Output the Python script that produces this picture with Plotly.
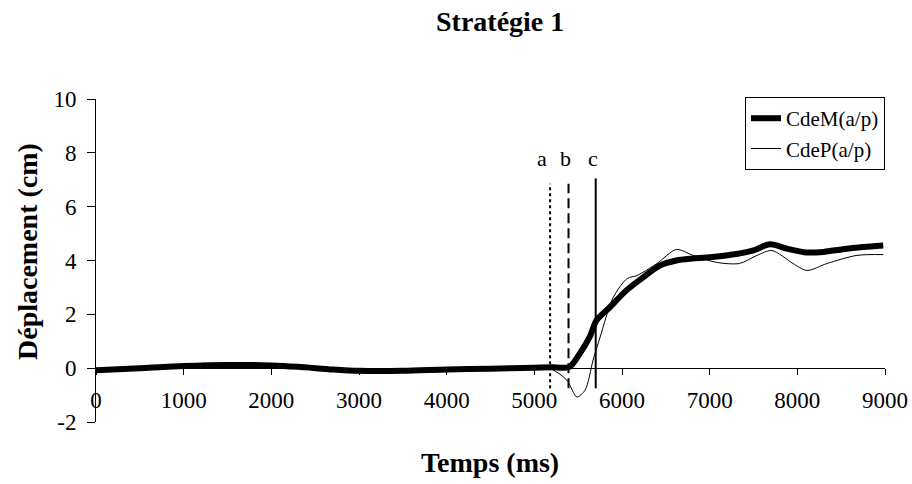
import plotly.graph_objects as go

# Data
t_M = [0, 500, 1000, 1500, 2000, 2300, 2700, 3000, 3500, 4000, 4500, 5000, 5200, 5400,
       5520, 5630, 5710, 5860, 6050, 6240, 6430, 6620, 6800, 6970, 7260, 7490, 7690,
       7880, 8100, 8300, 8520, 8750, 8980]
cdeM = [-0.08, 0.0, 0.08, 0.12, 0.1, 0.05, -0.05, -0.1, -0.1, -0.05, -0.02, 0.02, 0.03, 0.05,
        0.55, 1.15, 1.78, 2.26, 2.89, 3.37, 3.81, 4.0, 4.07, 4.11, 4.22, 4.37, 4.6,
        4.44, 4.3, 4.32, 4.42, 4.5, 4.56]

t_P = [0, 500, 1000, 1500, 2000, 2300, 2700, 3000, 3500, 4000, 4500, 5000, 5200, 5370,
       5485, 5580, 5670, 5750, 5900, 6060, 6170, 6400, 6620, 6810, 7080, 7340, 7540,
       7710, 7950, 8110, 8340, 8680, 8980]
cdeP = [-0.08, 0.0, 0.08, 0.12, 0.1, 0.05, -0.05, -0.1, -0.1, -0.05, -0.02, 0.02, -0.05, -0.44,
        -1.07, -0.81, 0.3, 1.15, 2.63, 3.33, 3.44, 3.89, 4.41, 4.19, 3.93, 3.89, 4.19,
        4.37, 3.89, 3.63, 3.89, 4.19, 4.22]

event_labels = ["a", "b", "c"]
event_t = [5180, 5390, 5700]
event_y_low = -0.75
event_y_high = [6.85, 6.85, 7.05]
event_label_y = 7.8

x_ticks = [0, 1000, 2000, 3000, 4000, 5000, 6000, 7000, 8000, 9000]
y_ticks = [-2, 0, 2, 4, 6, 8, 10]

FONT = "Liberation Serif, Times New Roman, serif"

fig = go.Figure()

fig.add_trace(go.Scatter(x=t_P, y=cdeP, mode="lines", name="CdeP(a/p)",
                         line=dict(color="black", width=1, shape="spline", smoothing=0.8),
                         legendrank=2))
fig.add_trace(go.Scatter(x=t_M, y=cdeM, mode="lines", name="CdeM(a/p)",
                         line=dict(color="black", width=6, shape="spline", smoothing=0.8),
                         legendrank=1))

dashes = ["dot", "10px,5px", "solid"]
label_shift = [-8, -3, -3]
for lab, t, yh, d, s in zip(event_labels, event_t, event_y_high, dashes, label_shift):
    fig.add_trace(go.Scatter(x=[t, t], y=[event_y_low, yh], mode="lines",
                             line=dict(color="black", width=2, dash=d), showlegend=False,
                             hoverinfo="skip"))
    fig.add_annotation(x=t, y=event_label_y, text=lab, showarrow=False, xshift=s,
                       xanchor="center", yanchor="middle",
                       font=dict(family=FONT, size=22, color="black"))

fig.update_layout(
    width=912, height=484,
    margin=dict(l=96, r=27, t=99, b=62, autoexpand=False),
    paper_bgcolor="white", plot_bgcolor="white",
    font=dict(family=FONT, size=23, color="black"),
    showlegend=True,
    legend=dict(x=1.0, y=1.006, xanchor="right", yanchor="top",
                bordercolor="black", borderwidth=1, bgcolor="white",
                font=dict(family=FONT, size=21), tracegroupgap=0),
    xaxis=dict(range=[0, 9000], tickvals=x_ticks, ticktext=[str(v) for v in x_ticks],
               showgrid=False, zeroline=False, showline=True, linecolor="black", linewidth=1,
               ticks="outside", ticklen=6, tickcolor="black", ticklabelstandoff=5,
               anchor="free", position=1/6, automargin=False),
    yaxis=dict(range=[-2, 10], tickvals=y_ticks, ticktext=[str(v) for v in y_ticks],
               showgrid=False, zeroline=False, showline=True, linecolor="black", linewidth=1,
               ticks="outside", ticklen=8, tickcolor="black", ticklabelstandoff=6,
               domain=[0, 1], automargin=False),
)

# Titles placed by pixel position (converted to paper coords below)
title_specs = [
    (500, 22, "<b>Stratégie 1</b>", 0),
    (490, 463, "<b>Temps (ms)</b>", 0),
    (27, 252, "<b>Déplacement (cm)</b>", -90),
]
pw, ph = 912 - 96 - 27, 484 - 99 - 62
for px, py, txt, ang in title_specs:
    fig.add_annotation(x=(px - 96) / pw, y=(484 - 62 - py) / ph, xref="paper", yref="paper",
                       text=txt, showarrow=False, textangle=ang,
                       xanchor="center", yanchor="middle",
                       font=dict(family=FONT, size=28))

fig.write_html("out.html")
